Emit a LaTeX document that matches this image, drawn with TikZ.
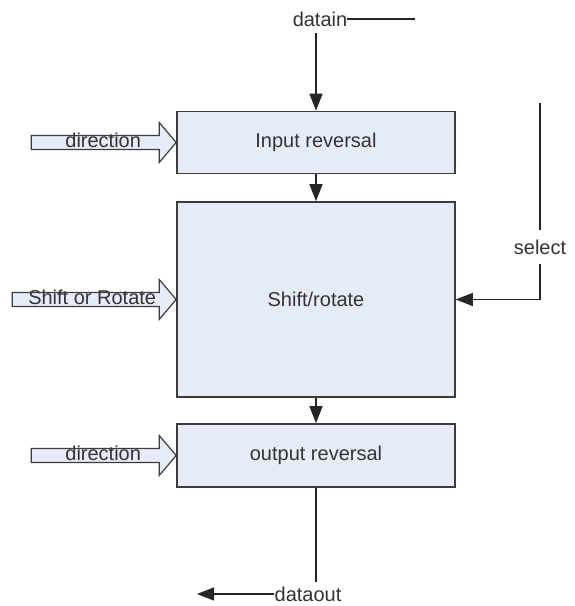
\documentclass[tikz,border=0pt]{standalone}
\usepackage{fontspec}
\setmainfont{Liberation Sans}
\usetikzlibrary{arrows.meta}
\definecolor{boxfill}{HTML}{E6ECF7}
\definecolor{edge}{HTML}{3C3C3C}
\definecolor{ink}{HTML}{333333}
\begin{document}
\begin{tikzpicture}[x=1pt,y=-1pt,
  every node/.style={font=\fontsize{20}{24}\selectfont, text=ink, inner sep=0pt},
  block/.style={draw=edge, line width=1.6pt, fill=boxfill, minimum width=278pt},
  wire/.style={draw=black!85, line width=1.3pt},
  arr/.style={wire, -{Triangle[length=17pt,width=13pt]}},
  fatfill/.style={fill=boxfill},
  fatline/.style={draw=edge, line width=1.2pt, line join=miter}]
  \fill[white] (0,0) rectangle (574,606);
  \useasboundingbox (0,0) rectangle (574,606);

  % main processing blocks
  \node[block, minimum height=62pt] (ir) at (316,142.5) {Input reversal};
  \node[block, minimum height=195pt] (sr) at (316,299.5) {Shift/rotate};
  \node[block, minimum height=63pt] (or) at (316,455.5) {output reversal};

  % data input
  \node (din) at (320,19) {datain};
  \coordinate (dinend) at (415,20);
  \coordinate (dintop) at (316,33);
  \draw[wire] (din.east) -- (din.east -| dinend);
  \draw[arr] (dintop) -- (ir.north);

  % chain between blocks
  \draw[arr] (ir.south) -- (sr.north);
  \draw[arr] (sr.south) -- (or.north);

  % data output
  \node (dout) at (308,594) {dataout};
  \coordinate (dbot) at (316,582);
  \coordinate (dtail) at (197,594);
  \draw[wire] (or.south) -- (dbot);
  \draw[arr] (dout.west) -- (dout.west -| dtail);

  % select control
  \node[inner ysep=9pt] (sel) at (540,247) {select};
  \coordinate (seltop) at (540,103);
  \draw[wire] (seltop) -- (sel.north);
  \draw[arr] (sel.south) -- (sel.south |- sr.east) -- (sr.east);

  % block-arrow control inputs: fill, label, then the outline on top
  \newcommand\ctlarrow[1]{(-#1,-7) -- (-17,-7) -- (-17,-20) -- (0,0)
    -- (-17,20) -- (-17,7) -- (-#1,7) -- cycle}
  \fill[fatfill, shift={(ir.west)}] \ctlarrow{145};
  \node (dir1) at ([shift={(-73,-2)}]ir.west) {direction};
  \draw[fatline, shift={(ir.west)}] \ctlarrow{145};

  \fill[fatfill, shift={(sr.west)}] \ctlarrow{164};
  \node (sor) at ([shift={(-84,-2)}]sr.west) {Shift or Rotate};
  \draw[fatline, shift={(sr.west)}] \ctlarrow{164};

  \fill[fatfill, shift={(or.west)}] \ctlarrow{145};
  \node (dir2) at ([shift={(-73,-2)}]or.west) {direction};
  \draw[fatline, shift={(or.west)}] \ctlarrow{145};
\end{tikzpicture}
\end{document}
